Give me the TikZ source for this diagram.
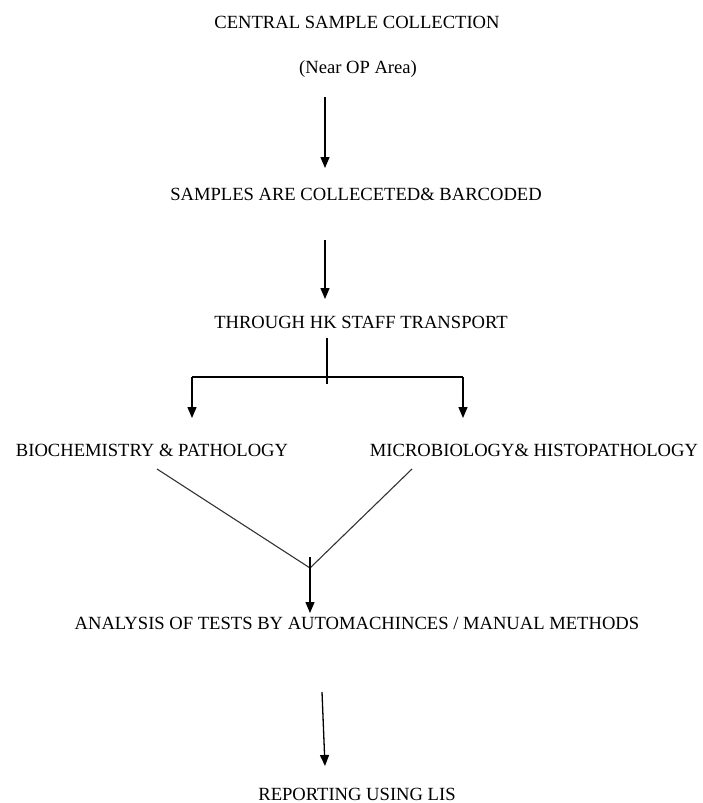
\documentclass[tikz,border=0pt]{standalone}
\usepackage{fontspec}
\setmainfont{Liberation Serif}
\usetikzlibrary{arrows.meta}
\begin{document}
\begin{tikzpicture}[x=1pt,y=-1pt,
  lbl/.style={inner sep=0pt, anchor=base, font=\fontsize{18.6}{22}\selectfont},
  arr/.style={line width=1.3pt, -{Triangle[width=9pt,length=11pt]}},
  ln/.style={line width=1.3pt},
  diag/.style={line width=1.1pt, black!80}]
\useasboundingbox (0,0) rectangle (703,803);
% texts
\node[lbl] (central) at (357,28) {CENTRAL SAMPLE COLLECTION};
\node[lbl] (near) at (358,73) {(Near OP Area)};
\node[lbl] (samples) at (356,200) {SAMPLES ARE COLLECETED\& BARCODED};
\node[lbl] (through) at (361,328) {THROUGH HK STAFF TRANSPORT};
\node[lbl] (bio) at (152,456) {BIOCHEMISTRY \& PATHOLOGY};
\node[lbl] (micro) at (534,456) {MICROBIOLOGY\& HISTOPATHOLOGY};
\node[lbl] (analysis) at (357,629) {ANALYSIS OF TESTS BY AUTOMACHINCES / MANUAL METHODS};
\node[lbl] (report) at (357,800) {REPORTING USING LIS};
% connector end points
\coordinate (a1s) at (325,97);
\coordinate (a1e) at (325,168);
\coordinate (a2s) at (325,240);
\coordinate (a2e) at (325,299);
\coordinate (bs) at (327,338);
\coordinate (be) at (327,384);
\coordinate (bl) at (192,377);
\coordinate (br) at (463,377);
\coordinate (ble) at (192,418);
\coordinate (bre) at (463,418);
\coordinate (vl) at (157,469);
\coordinate (vr) at (412,469);
\coordinate (vj) at (310,568);
\coordinate (vs) at (310,557);
\coordinate (ve) at (310,613);
\coordinate (a3s) at (322,692);
\coordinate (a3e) at (325,766);
% connectors
\draw[arr] (a1s) -- (a1e);
\draw[arr] (a2s) -- (a2e);
\draw[ln] (bs) -- (be);
\draw[ln] (bl) -- (br);
\draw[arr] (bl) -- (ble);
\draw[arr] (br) -- (bre);
\draw[diag] (vl) -- (vj) -- (vr);
\draw[arr] (vs) -- (ve);
\draw[arr] (a3s) -- (a3e);
\end{tikzpicture}
\end{document}
